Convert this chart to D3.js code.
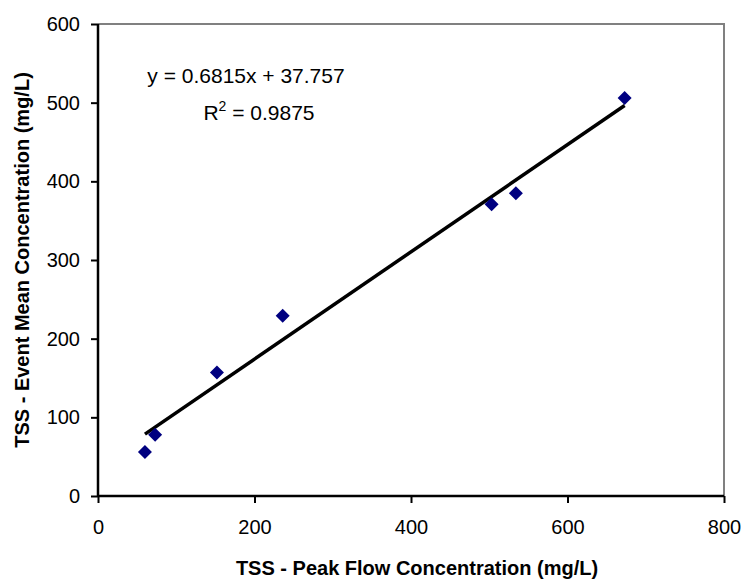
<!doctype html>
<html>
<head>
    <title>TSS scatter</title>
    <script src="https://d3js.org/d3.v7.min.js"></script>
    <style>
        body { margin: 0; background: #fff; }
        text { font-family: Arial, "Liberation Sans", sans-serif; }
    </style>
</head>
<body>
<svg width="744" height="581"></svg>
<script>
    // values
    var peakFlow = [60, 73, 152, 236, 503, 534, 673];
    var eventMean = [56, 78, 157, 229, 371, 385, 506];
    var xTicks = [0, 200, 400, 600, 800];
    var yTicks = [0, 100, 200, 300, 400, 500, 600];
    var slope = 0.6815, intercept = 37.757;

    var svg = d3.select("svg");

    var x = d3.scaleLinear().domain([0, 800]).range([98, 724]);
    var y = d3.scaleLinear().domain([0, 600]).range([496, 24]);

    // grey frame on top and right
    svg.append("path")
        .attr("d", "M" + x(0) + "," + y(600) + "H" + x(800) + "V" + y(0))
        .attr("fill", "none")
        .attr("stroke", "#808080")
        .attr("stroke-width", 2);

    var xAxis = svg.append("g")
        .attr("transform", "translate(0," + y(0) + ")")
        .call(d3.axisBottom(x).tickValues(xTicks).tickSize(7).tickPadding(17));
    var yAxis = svg.append("g")
        .attr("transform", "translate(" + x(0) + ",0)")
        .call(d3.axisLeft(y).tickValues(yTicks).tickSize(7).tickPadding(11));

    [xAxis, yAxis].forEach(function (g) {
        g.select(".domain").attr("stroke", "#000").attr("stroke-width", 2.5);
        g.selectAll(".tick line").attr("stroke", "#000").attr("stroke-width", 2);
        g.selectAll(".tick text")
            .attr("font-family", "Arial, 'Liberation Sans', sans-serif")
            .attr("font-size", 20)
            .attr("fill", "#000");
    });
    // domain lines without end caps
    xAxis.select(".domain").attr("d", "M" + x(0) + ",0H" + x(800));
    yAxis.select(".domain").attr("d", "M0," + y(0) + "V" + y(600));

    // trendline over the data range
    var xr = d3.extent(peakFlow);
    svg.append("line")
        .attr("x1", x(xr[0])).attr("y1", y(slope * xr[0] + intercept))
        .attr("x2", x(xr[1])).attr("y2", y(slope * xr[1] + intercept))
        .attr("stroke", "#000")
        .attr("stroke-width", 3.5);

    // diamond markers
    var r = 7;
    svg.selectAll(".pt")
        .data(peakFlow)
        .enter()
        .append("path")
        .attr("class", "pt")
        .attr("d", function (d, i) {
            var cx = x(d), cy = y(eventMean[i]);
            return "M" + cx + "," + (cy - r) + "L" + (cx + r) + "," + cy +
                "L" + cx + "," + (cy + r) + "L" + (cx - r) + "," + cy + "Z";
        })
        .attr("fill", "#000080");

    // equation
    svg.append("text")
        .attr("x", 246).attr("y", 83)
        .attr("text-anchor", "middle")
        .attr("font-size", 21)
        .text("y = 0.6815x + 37.757");
    var r2 = svg.append("text")
        .attr("x", 259).attr("y", 120)
        .attr("text-anchor", "middle")
        .attr("font-size", 21);
    r2.append("tspan").text("R");
    r2.append("tspan").attr("dy", -9).attr("font-size", 14).text("2");
    r2.append("tspan").attr("dy", 9).text(" = 0.9875");

    // axis titles
    svg.append("text")
        .attr("x", 417).attr("y", 575)
        .attr("text-anchor", "middle")
        .attr("font-size", 20)
        .attr("font-weight", "bold")
        .text("TSS - Peak Flow Concentration (mg/L)");
    svg.append("text")
        .attr("transform", "translate(29,260) rotate(-90)")
        .attr("text-anchor", "middle")
        .attr("font-size", 20)
        .attr("font-weight", "bold")
        .text("TSS - Event Mean Concentration (mg/L)");
</script>
</body>
</html>
